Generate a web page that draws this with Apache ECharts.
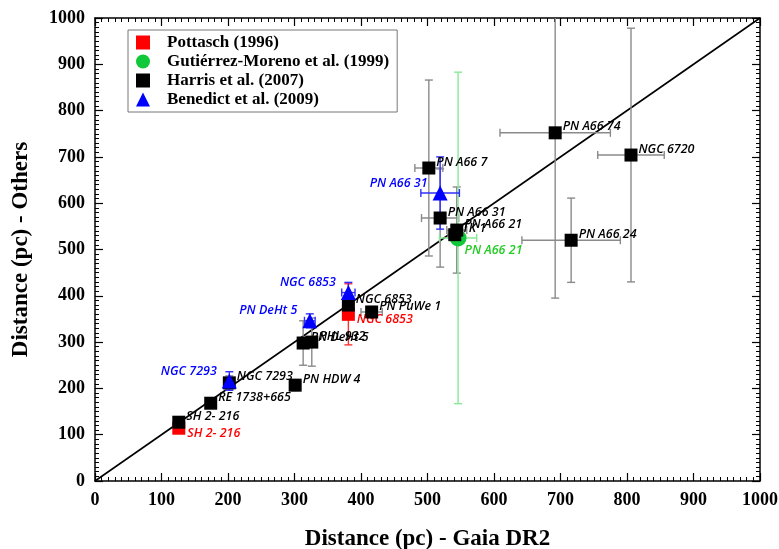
<!DOCTYPE html>
<html>
<head>
<meta charset="utf-8">
<script src="https://cdn.jsdelivr.net/npm/echarts@6/dist/echarts.min.js"></script>
<style>
  html, body { margin: 0; padding: 0; background: #fff; }
  #chart { width: 779px; height: 549px; }
</style>
</head>
<body>
<div id="chart"></div>
<script>
// axis ticks (pc)
var axisTicks = [0, 100, 200, 300, 400, 500, 600, 700, 800, 900, 1000];

// Pottasch (1996)
var pottaschNames = ["SH 2- 216", "NGC 6853"];
var pottaschGaia = [126, 381];
var pottaschOthers = [114, 360];
var pottaschGaiaErr = [4, 5];
var pottaschOthersErr = [10, 66];

// Gutiérrez-Moreno et al. (1999)
var gutierrezNames = ["PN A66 21"];
var gutierrezGaia = [546];
var gutierrezOthers = [525];
var gutierrezGaiaErr = [28];
var gutierrezOthersErr = [358];

// Harris et al. (2007)
var harrisNames = ["SH 2- 216", "RE 1738+665", "NGC 7293", "PN HDW 4", "PN DeHt 5", "PHL 932",
  "NGC 6853", "PN PuWe 1", "PN A66 7", "PN A66 31", "TK 1", "PN A66 21", "PN A66 74",
  "NGC 6720", "PN A66 24"];
var harrisGaia = [126, 174, 202, 301, 313, 326, 381, 416, 502, 519, 541, 544, 692, 806, 716];
var harrisOthers = [127, 168, 212, 207, 298, 300, 380, 365, 676, 568, 532, 542, 752, 704, 520];
var harrisGaiaErr = [4, 5, 5, 8, 8, 8, 8, 16, 21, 28, 10, 15, 83, 50, 74];
var harrisOthersErr = [8, 8, 15, 12, 48, 52, 20, 12, 190, 106, 10, 93, 357, 274, 91];

// Benedict et al. (2009)
var benedictNames = ["NGC 7293", "PN DeHt 5", "NGC 6853", "PN A66 31"];
var benedictGaia = [202, 323, 381, 519];
var benedictOthers = [216, 346, 407, 622];
var benedictGaiaErr = [6, 8, 10, 29];
var benedictOthersErr = [20, 15, 22, 78];

var chartDom = document.getElementById("chart");
var myChart = echarts.init(chartDom);

function points(names, xs, ys) {
  return names.map(function (n, i) {
    return { name: n, value: [xs[i], ys[i]] };
  });
}
function errRows(xs, ys, exs, eys) {
  return xs.map(function (x, i) {
    return [x, ys[i], exs[i], eys[i]];
  });
}

// error bars with caps, clipped to the axis range
function errorBars(color) {
  return function (params, api) {
    var x = api.value(0), y = api.value(1), ex = api.value(2), ey = api.value(3);
    var cap = 4;
    var st = { stroke: color, lineWidth: 1.4 };
    var kids = [];
    var yTop = Math.min(1000, y + ey), yBot = Math.max(0, y - ey);
    var p1 = api.coord([x, yTop]), p2 = api.coord([x, yBot]);
    kids.push({ type: "line", shape: { x1: p1[0], y1: p1[1], x2: p2[0], y2: p2[1] }, style: st });
    if (y + ey <= 1000) kids.push({ type: "line", shape: { x1: p1[0] - cap, y1: p1[1], x2: p1[0] + cap, y2: p1[1] }, style: st });
    if (y - ey >= 0) kids.push({ type: "line", shape: { x1: p2[0] - cap, y1: p2[1], x2: p2[0] + cap, y2: p2[1] }, style: st });
    var q1 = api.coord([x - ex, y]), q2 = api.coord([x + ex, y]);
    kids.push({ type: "line", shape: { x1: q1[0], y1: q1[1], x2: q2[0], y2: q2[1] }, style: st });
    kids.push({ type: "line", shape: { x1: q1[0], y1: q1[1] - cap, x2: q1[0], y2: q1[1] + cap }, style: st });
    kids.push({ type: "line", shape: { x1: q2[0], y1: q2[1] - cap, x2: q2[0], y2: q2[1] + cap }, style: st });
    return { type: "group", children: kids };
  };
}

var labelFont = {
  fontFamily: "Open Sans",
  fontStyle: "italic",
  fontSize: 12.5,
  fontWeight: 600
};

var serifBold = { fontFamily: "Liberation Serif", fontWeight: "bold", color: "#000" };

function tickText(v) {
  return axisTicks.indexOf(v) >= 0 ? String(v) : "";
}

function baseX(pos) {
  return {
    type: "value", position: pos, min: 0, max: 1000, interval: 100,
    axisLine: { onZero: false, lineStyle: { color: "#000", width: 1.5 } },
    axisTick: { inside: true, length: 8, lineStyle: { color: "#000", width: 1.2 } },
    minorTick: { show: true, splitNumber: 10, length: 4, lineStyle: { color: "#000", width: 1 } },
    splitLine: { show: false }
  };
}

var xBottom = baseX("bottom");
xBottom.name = "Distance (pc) - Gaia DR2";
xBottom.nameLocation = "middle";
xBottom.nameGap = 47;
xBottom.nameTextStyle = Object.assign({ fontSize: 23 }, serifBold);
xBottom.axisLabel = Object.assign({ fontSize: 18, margin: 10, formatter: tickText }, serifBold);
var xTop = baseX("top");
xTop.axisLabel = { show: false };

var yLeft = baseX("left");
yLeft.name = "Distance (pc) - Others";
yLeft.nameLocation = "middle";
yLeft.nameGap = 62;
yLeft.nameTextStyle = Object.assign({ fontSize: 23 }, serifBold);
yLeft.axisLabel = Object.assign({ fontSize: 18, margin: 10, formatter: tickText }, serifBold);
var yRight = baseX("right");
yRight.axisLabel = { show: false };

var option = {
  backgroundColor: "#fff",
  animation: false,
  grid: { left: 95, right: 19, top: 18, bottom: 68, outerBoundsMode: "none", containLabel: false },
  xAxis: [xBottom, xTop],
  yAxis: [yLeft, yRight],
  legend: {
    orient: "vertical",
    left: 128,
    top: 30,
    padding: [4, 8, 4, 8],
    itemWidth: 14,
    itemHeight: 14,
    itemGap: 2,
    borderColor: "#777",
    borderWidth: 1,
    backgroundColor: "#fff",
    textStyle: Object.assign({ fontSize: 17, lineHeight: 17, padding: [0, 0, 0, 12] }, serifBold),
    data: ["Pottasch (1996)", "Gutiérrez-Moreno et al. (1999)", "Harris et al. (2007)", "Benedict et al. (2009)"]
  },
  series: [
    {
      type: "line", silent: true, symbol: "none", z: 1,
      data: [[0, 0], [1000, 1000]],
      lineStyle: { color: "#000", width: 1.6 }
    },
    { type: "custom", silent: true, z: 2, renderItem: errorBars("#8a8a8a"), encode: { x: 0, y: 1 },
      data: errRows(harrisGaia, harrisOthers, harrisGaiaErr, harrisOthersErr) },
    { type: "custom", silent: true, z: 2, renderItem: errorBars("#88e898"), encode: { x: 0, y: 1 },
      data: errRows(gutierrezGaia, gutierrezOthers, gutierrezGaiaErr, gutierrezOthersErr) },
    { type: "custom", silent: true, z: 2, renderItem: errorBars("#ff3030"), encode: { x: 0, y: 1 },
      data: errRows(pottaschGaia, pottaschOthers, pottaschGaiaErr, pottaschOthersErr) },
    { type: "custom", silent: true, z: 2, renderItem: errorBars("#2f2fff"), encode: { x: 0, y: 1 },
      data: errRows(benedictGaia, benedictOthers, benedictGaiaErr, benedictOthersErr) },
    {
      name: "Pottasch (1996)", type: "scatter", symbol: "rect", symbolSize: 13, z: 5,
      itemStyle: { color: "#ff0000", opacity: 1 },
      label: Object.assign({ show: true, formatter: "{b}", position: "right", distance: 2, offset: [0, 5], color: "#ff0000" }, labelFont),
      data: points(pottaschNames, pottaschGaia, pottaschOthers)
    },
    {
      name: "Gutiérrez-Moreno et al. (1999)", type: "scatter", symbol: "circle", symbolSize: 17, z: 4,
      itemStyle: { color: "#11c83a", opacity: 1 },
      label: Object.assign({ show: true, formatter: "{b}", position: "right", distance: -2, offset: [0, 13], color: "#22cc22" }, labelFont),
      data: points(gutierrezNames, gutierrezGaia, gutierrezOthers)
    },
    {
      name: "Harris et al. (2007)", type: "scatter", symbol: "rect", symbolSize: 13, z: 6,
      itemStyle: { color: "#000", opacity: 1 },
      label: Object.assign({ show: true, formatter: "{b}", position: "right", distance: 1, offset: [0, -6], color: "#000" }, labelFont),
      data: points(harrisNames, harrisGaia, harrisOthers)
    },
    {
      name: "Benedict et al. (2009)", type: "scatter", symbol: "triangle", symbolSize: 15, z: 7,
      itemStyle: { color: "#0000ff", opacity: 1 },
      label: Object.assign({ show: true, formatter: "{b}", position: "left", distance: 5, offset: [0, -10], color: "#0000ff" }, labelFont),
      data: points(benedictNames, benedictGaia, benedictOthers)
    }
  ]
};

if (option && typeof option === "object") {
  myChart.setOption(option);
}
</script>
</body>
</html>
